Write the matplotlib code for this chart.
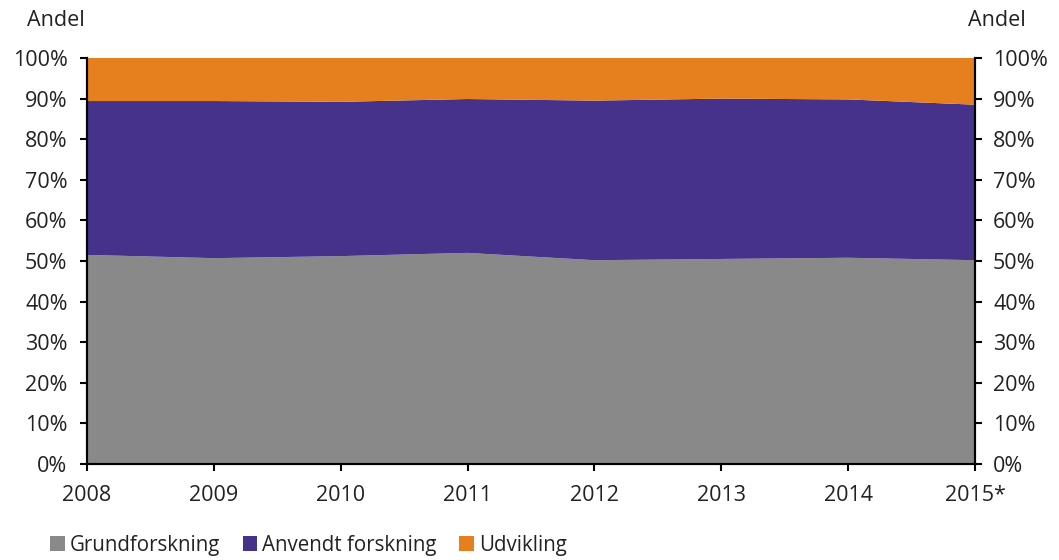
import matplotlib
matplotlib.use("Agg")
import matplotlib.pyplot as plt
from matplotlib.patches import Patch
from matplotlib.ticker import FuncFormatter

years = [2008, 2009, 2010, 2011, 2012, 2013, 2014, 2015]
year_labels = ["2008", "2009", "2010", "2011", "2012", "2013", "2014", "2015*"]
grund = [51.5, 50.7, 51.2, 52.0, 50.2, 50.5, 50.8, 50.2]
anvendt = [37.9, 38.7, 38.0, 37.9, 39.3, 39.5, 39.0, 38.3]
udvikling = [100 - g - a for g, a in zip(grund, anvendt)]

labels = ["Grundforskning", "Anvendt forskning", "Udvikling"]
colors = ["#898989", "#46328B", "#E6801E"]

plt.rcParams['font.family'] = ['Open Sans', 'DejaVu Sans']

fig = plt.figure(figsize=(10.59, 5.6), dpi=100)
ax = fig.add_axes([87/1059, 1 - 464/560, (975-87)/1059, (464-58)/560])
ax.stackplot(years, grund, anvendt, udvikling, colors=colors, linewidth=0)
ax.set_xlim(2008, 2015)
ax.set_ylim(0, 100)
ax.set_yticks(range(0, 101, 10))
fmt = FuncFormatter(lambda v, p: f"{int(v)}%")
ax.yaxis.set_major_formatter(fmt)
ax.set_xticks(years)
ax.set_xticklabels(year_labels)
ax.spines['top'].set_visible(False)
for s in ['left', 'right', 'bottom']:
    ax.spines[s].set_linewidth(1.5)
ax.tick_params(axis='both', labelsize=15.5, length=5, width=1.5, colors='black',
               labelcolor='#222222', direction='out')
ax.tick_params(axis='x', pad=10)
ax.tick_params(axis='y', pad=9)
ax2 = ax.twinx()
ax2.set_ylim(0, 100)
ax2.set_yticks(range(0, 101, 10))
ax2.yaxis.set_major_formatter(fmt)
ax2.spines['top'].set_visible(False)
ax2.tick_params(axis='y', labelsize=15.5, length=5, width=1.5, labelcolor='#222222',
                direction='out', pad=8)
for s in ['left', 'right', 'bottom']:
    ax2.spines[s].set_linewidth(1.5)

fig.text(27/1059, 1 - 21/560, "Andel", fontsize=15.5, va='center', ha='left', color='#222222')
fig.text(1026/1059, 1 - 21/560, "Andel", fontsize=15.5, va='center', ha='right', color='#222222')

handles = [Patch(facecolor=c, edgecolor='none') for c in colors]
fig.legend(handles, labels, loc='center left', bbox_to_anchor=(42/1059, 1 - 545/560),
           ncol=3, frameon=False, fontsize=14.8, handlelength=0.7, handleheight=0.7,
           handletextpad=0.25, columnspacing=1.1, borderaxespad=0, labelcolor='#222222')

fig.savefig("out.png", dpi=100)
